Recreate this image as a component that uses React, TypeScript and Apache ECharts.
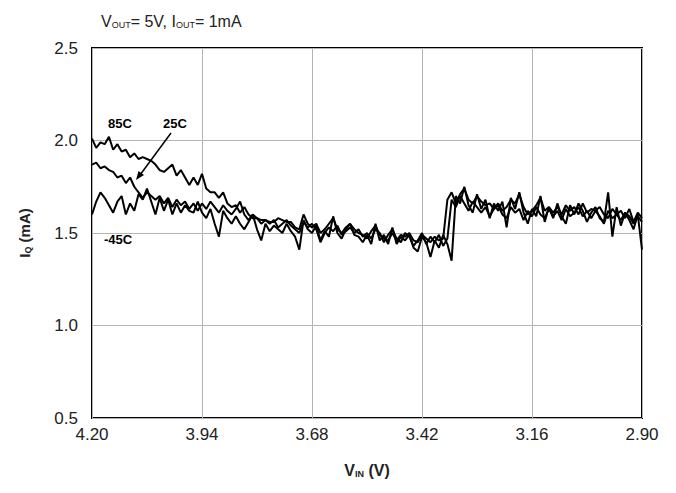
import React, { useEffect, useRef } from "react";
import * as echarts from "echarts";

// V_IN sample points (V), 4.20 down to 2.90 in 0.01 V steps
const VIN: string[] = Array.from({ length: 131 }, (_, i) => (4.2 - 0.01 * i).toFixed(2));

const Y_TICKS = { min: 0.5, max: 2.5, step: 0.5 };

const IQ_85C: number[] = [
  2.01, 1.96, 1.99, 1.98, 2.02, 1.95, 1.98, 1.94, 1.95, 1.91,
  1.93, 1.90, 1.91, 1.90, 1.89, 1.87, 1.84, 1.83, 1.85, 1.87,
  1.81, 1.84, 1.80, 1.76, 1.80, 1.76, 1.82, 1.74, 1.72, 1.72,
  1.69, 1.72, 1.66, 1.64, 1.65, 1.61, 1.64, 1.60, 1.58, 1.58,
  1.57, 1.57, 1.56, 1.56, 1.58, 1.57, 1.56, 1.56, 1.53, 1.52,
  1.60, 1.55, 1.53, 1.55, 1.50, 1.52, 1.55, 1.58, 1.52, 1.50,
  1.53, 1.55, 1.52, 1.50, 1.49, 1.47, 1.51, 1.54, 1.49, 1.47,
  1.46, 1.50, 1.46, 1.49, 1.48, 1.50, 1.46, 1.45, 1.49, 1.47,
  1.45, 1.48, 1.46, 1.47, 1.68, 1.72, 1.66, 1.71, 1.74, 1.68,
  1.66, 1.70, 1.67, 1.65, 1.66, 1.63, 1.66, 1.62, 1.64, 1.68,
  1.66, 1.71, 1.64, 1.60, 1.62, 1.65, 1.69, 1.62, 1.64, 1.61,
  1.64, 1.60, 1.65, 1.62, 1.64, 1.60, 1.66, 1.61, 1.63, 1.62,
  1.64, 1.60, 1.58, 1.63, 1.60, 1.62, 1.58, 1.63, 1.56, 1.61,
  1.58,
];

const IQ_25C: number[] = [
  1.87, 1.88, 1.85, 1.86, 1.84, 1.83, 1.80, 1.81, 1.77, 1.80,
  1.75, 1.72, 1.69, 1.72, 1.70, 1.68, 1.70, 1.66, 1.69, 1.64,
  1.68, 1.65, 1.67, 1.63, 1.66, 1.62, 1.66, 1.63, 1.67, 1.64,
  1.61, 1.65, 1.62, 1.60, 1.63, 1.67, 1.60, 1.57, 1.60, 1.58,
  1.55, 1.57, 1.55, 1.57, 1.53, 1.55, 1.57, 1.54, 1.52, 1.50,
  1.56, 1.53, 1.55, 1.52, 1.45, 1.50, 1.53, 1.51, 1.54, 1.49,
  1.51, 1.53, 1.50, 1.52, 1.48, 1.50, 1.47, 1.52, 1.50, 1.45,
  1.49, 1.52, 1.47, 1.45, 1.50, 1.48, 1.43, 1.46, 1.50, 1.44,
  1.48, 1.45, 1.49, 1.43, 1.47, 1.68, 1.64, 1.70, 1.66, 1.62,
  1.67, 1.64, 1.61, 1.64, 1.59, 1.63, 1.65, 1.60, 1.58, 1.64,
  1.61, 1.63, 1.57, 1.62, 1.59, 1.64, 1.60, 1.58, 1.63, 1.59,
  1.62, 1.57, 1.63, 1.59, 1.61, 1.64, 1.59, 1.62, 1.58, 1.62,
  1.59, 1.55, 1.62, 1.58, 1.60, 1.57, 1.61, 1.59, 1.55, 1.59,
  1.56,
];

const IQ_M45C: number[] = [
  1.60, 1.67, 1.72, 1.69, 1.65, 1.61, 1.67, 1.70, 1.60, 1.66,
  1.62, 1.71, 1.68, 1.74, 1.67, 1.60, 1.69, 1.62, 1.68, 1.60,
  1.66, 1.61, 1.65, 1.62, 1.61, 1.67, 1.61, 1.58, 1.63, 1.55,
  1.48, 1.62, 1.58, 1.55, 1.59, 1.55, 1.52, 1.56, 1.60, 1.52,
  1.46, 1.55, 1.51, 1.54, 1.52, 1.50, 1.55, 1.51, 1.48, 1.41,
  1.57, 1.52, 1.50, 1.54, 1.46, 1.51, 1.48, 1.59, 1.50, 1.47,
  1.52, 1.55, 1.49, 1.48, 1.45, 1.49, 1.44, 1.55, 1.46, 1.49,
  1.44, 1.53, 1.44, 1.48, 1.46, 1.49, 1.42, 1.40, 1.48, 1.45,
  1.37, 1.46, 1.42, 1.49, 1.44, 1.35, 1.70, 1.66, 1.75, 1.65,
  1.61, 1.71, 1.63, 1.68, 1.58, 1.66, 1.62, 1.67, 1.53, 1.69,
  1.63, 1.72, 1.61, 1.55, 1.63, 1.59, 1.70, 1.56, 1.64, 1.58,
  1.66, 1.59, 1.55, 1.65, 1.60, 1.66, 1.62, 1.56, 1.61, 1.64,
  1.58, 1.56, 1.72, 1.48, 1.64, 1.54, 1.61, 1.57, 1.52, 1.60,
  1.41,
];

const SERIES_NAMES = ["85C", "25C", "-45C"];

const FONT = "'Liberation Sans', Arial, Helvetica, sans-serif";

export default function App() {
  const ref = useRef<HTMLDivElement>(null);

  useEffect(() => {
    if (!ref.current) return;
    const chart = echarts.init(ref.current, undefined, { renderer: "svg" });
    const lineStyle = { color: "#000", width: 2 };
    const mk = (name: string, data: number[]) => ({
      name,
      type: "line",
      data,
      showSymbol: false,
      symbol: "none",
      lineStyle,
      itemStyle: { color: "#000" },
      z: 3,
    });
    chart.setOption({
      animation: false,
      backgroundColor: "#fff",
      textStyle: { fontFamily: FONT },
      title: {
        text: "{a|V}{s|OUT}{a|= 5V, I}{s|OUT}{a|= 1mA}",
        left: 96,
        top: 4,
        textStyle: {
          fontWeight: "normal",
          rich: {
            a: { fontFamily: FONT, fontSize: 16, fontWeight: "normal", color: "#222", lineHeight: 20, verticalAlign: "bottom" },
            s: { fontFamily: FONT, fontSize: 9, fontWeight: "normal", color: "#222", lineHeight: 11, verticalAlign: "bottom" },
          },
        },
      },
      grid: {
        left: 92,
        right: 34,
        top: 48,
        bottom: 75,
        show: true,
        borderColor: "#000",
        borderWidth: 2,
        backgroundColor: "transparent",
        containLabel: false,
      },
      xAxis: {
        type: "category",
        data: VIN,
        boundaryGap: false,
        axisLine: { show: false },
        axisTick: { show: false },
        axisLabel: { interval: 25, fontFamily: FONT, fontSize: 17, color: "#222", margin: 8 },
        splitLine: { show: true, interval: 25, lineStyle: { color: "#b4b4b4", width: 1 } },
        name: "{a|V}{s|IN}{a| (V)}",
        nameLocation: "middle",
        nameGap: 40,
        nameTextStyle: {
          rich: {
            a: { fontFamily: FONT, fontSize: 16, fontWeight: "bold", color: "#222", lineHeight: 20, verticalAlign: "bottom" },
            s: { fontFamily: FONT, fontSize: 9, fontWeight: "bold", color: "#222", lineHeight: 10, verticalAlign: "bottom" },
          },
        },
      },
      yAxis: {
        type: "value",
        min: Y_TICKS.min,
        max: Y_TICKS.max,
        interval: Y_TICKS.step,
        axisLine: { show: false },
        axisTick: { show: false },
        axisLabel: {
          fontFamily: FONT,
          fontSize: 17,
          color: "#222",
          margin: 14,
          formatter: (v: number) => v.toFixed(1),
        },
        splitLine: { show: true, lineStyle: { color: "#b4b4b4", width: 1 } },
        name: "{a|I}{s|Q}{a| (mA)}",
        nameLocation: "middle",
        nameGap: 60,
        nameTextStyle: {
          rich: {
            a: { fontFamily: FONT, fontSize: 15, fontWeight: "bold", color: "#222", lineHeight: 19, verticalAlign: "bottom" },
            s: { fontFamily: FONT, fontSize: 9, fontWeight: "bold", color: "#222", lineHeight: 10, verticalAlign: "bottom" },
          },
        },
      },
      series: [
        mk(SERIES_NAMES[0], IQ_85C),
        mk(SERIES_NAMES[1], IQ_25C),
        mk(SERIES_NAMES[2], IQ_M45C),
      ],
      graphic: [
        { type: "text", left: 108, top: 117, style: { text: SERIES_NAMES[0], font: `bold 13px ${FONT}`, fill: "#000" }, z: 10 },
        { type: "text", left: 163, top: 117, style: { text: SERIES_NAMES[1], font: `bold 13px ${FONT}`, fill: "#000" }, z: 10 },
        { type: "text", left: 104, top: 233, style: { text: SERIES_NAMES[2], font: `bold 13px ${FONT}`, fill: "#000" }, z: 10 },
        {
          type: "line",
          shape: { x1: 171, y1: 133, x2: 140, y2: 175 },
          style: { stroke: "#000", lineWidth: 1.5 },
          z: 10,
        },
        {
          type: "polygon",
          shape: { points: [[136, 180], [144, 175], [138.5, 171]] },
          style: { fill: "#000" },
          z: 10,
        },
      ],
    });
    return () => chart.dispose();
  }, []);

  return (
    <div
      ref={ref}
      style={{ position: "absolute", left: 0, top: 0, width: 676, height: 493, background: "#fff" }}
    />
  );
}
